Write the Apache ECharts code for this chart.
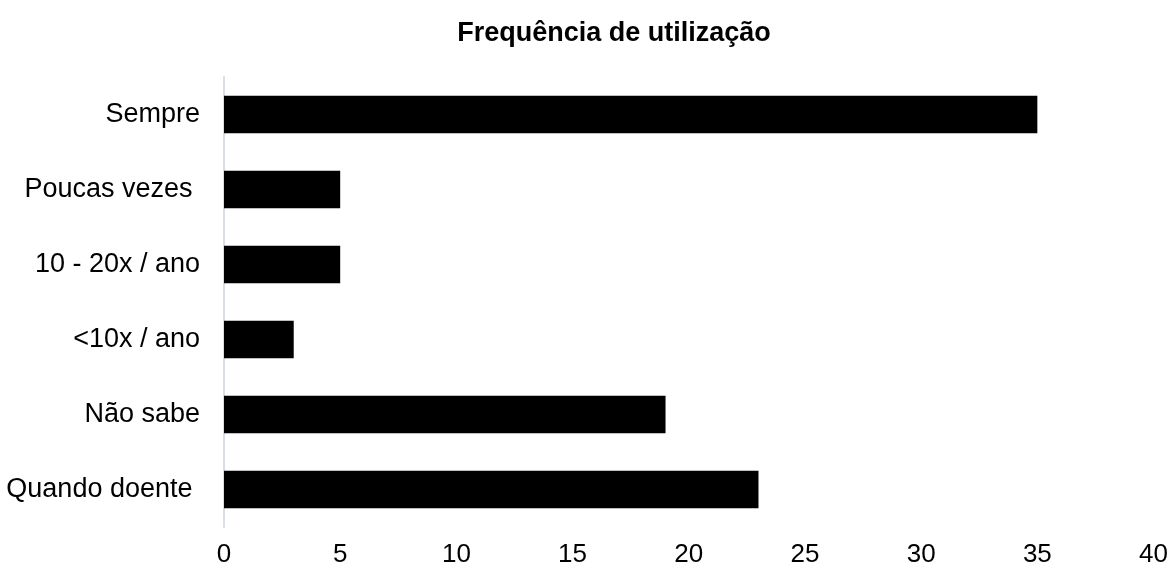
<!DOCTYPE html>
<html>
<head>
<meta charset="utf-8">
<script src="https://cdn.jsdelivr.net/npm/echarts@6/dist/echarts.min.js"></script>
<style>
  html, body { margin: 0; padding: 0; background: #fff; }
  #chart { width: 1171px; height: 568px; }
</style>
</head>
<body>
<div id="chart"></div>
<script>
// categories listed bottom to top (yAxis category order)
const categories = ['Quando doente ', 'Não sabe', '<10x / ano', '10 - 20x / ano', 'Poucas vezes ', 'Sempre']
const values = [23, 19, 3, 5, 5, 35]
const xTicks = [0, 40, 5] // min, max, interval

const chart = echarts.init(document.getElementById('chart'))

const option = {
  animation: false,
  title: {
    text: 'Frequência de utilização',
    left: 609,
    top: 15,
    textAlign: 'center',
    textStyle: {
      fontFamily: 'Liberation Sans',
      fontSize: 27,
      fontWeight: 'bold',
      color: '#000'
    }
  },
  grid: {
    left: 224,
    right: 17,
    top: 77,
    bottom: 41
  },
  xAxis: {
    type: 'value',
    min: xTicks[0],
    max: xTicks[1],
    interval: xTicks[2],
    axisLine: { show: false },
    axisTick: { show: false },
    splitLine: { show: false },
    axisLabel: {
      margin: 15,
      fontFamily: 'Liberation Sans',
      fontSize: 26,
      color: '#000'
    }
  },
  yAxis: {
    type: 'category',
    data: categories,
    axisLine: { show: true, lineStyle: { color: '#d9dde6', width: 2 } },
    axisTick: { show: false },
    axisLabel: {
      margin: 24,
      fontFamily: 'Liberation Sans',
      fontSize: 27,
      color: '#000'
    }
  },
  series: [
    {
      type: 'bar',
      data: values,
      barWidth: '50%',
      itemStyle: { color: '#000' }
    }
  ]
}

chart.setOption(option)
</script>
</body>
</html>
